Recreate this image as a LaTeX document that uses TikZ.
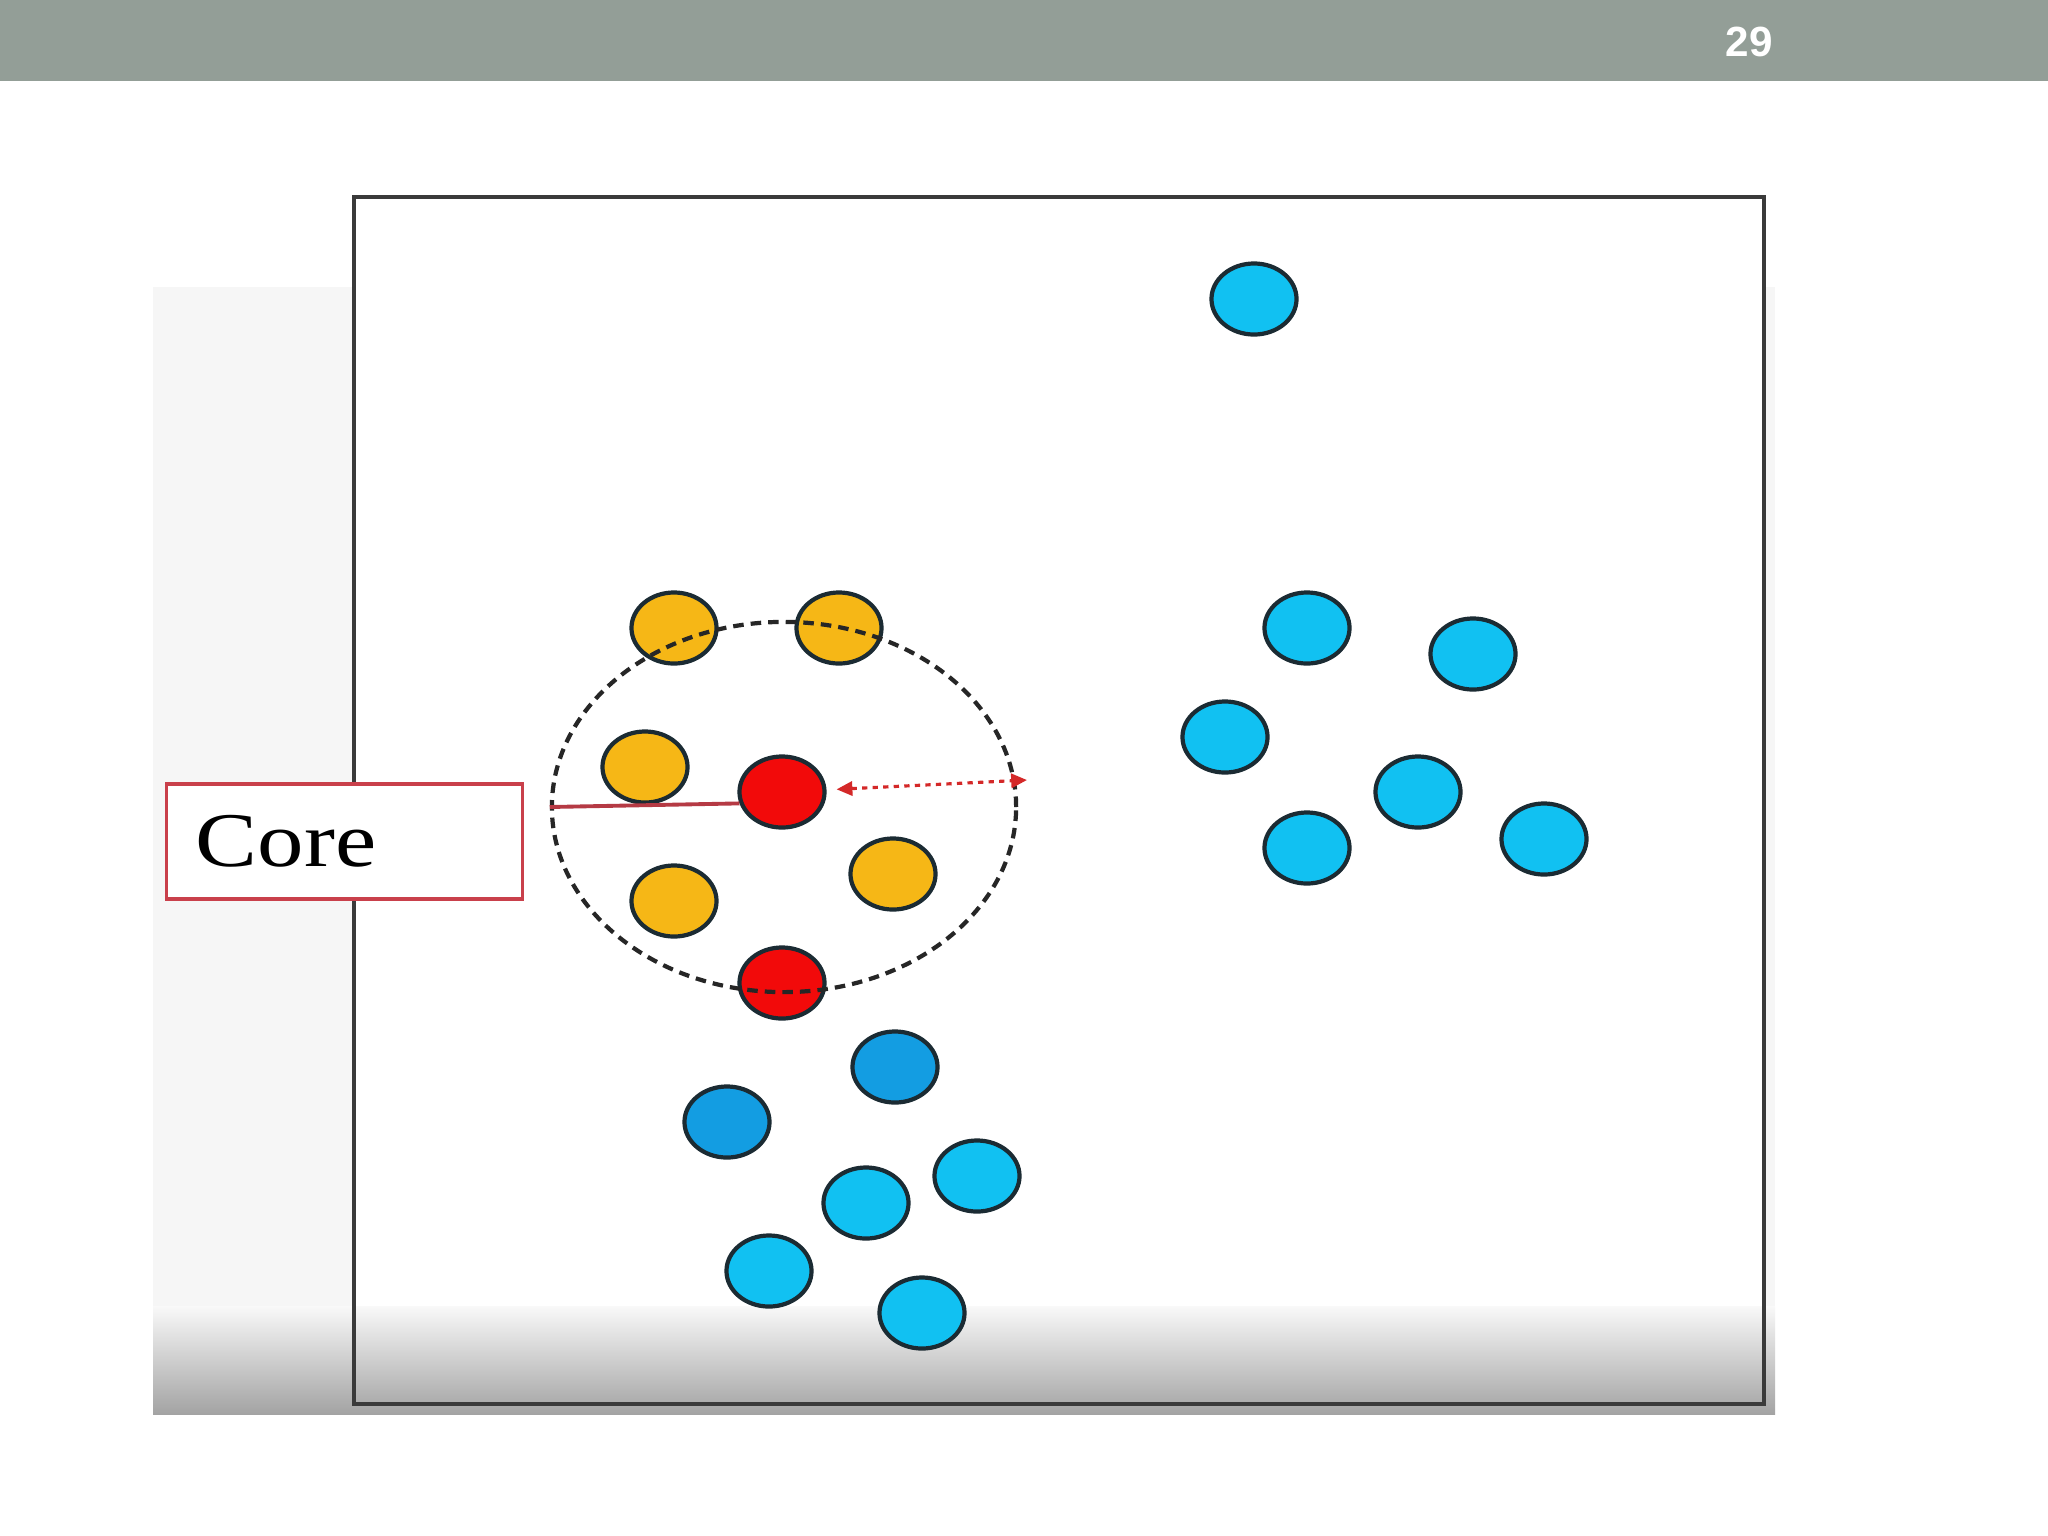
\documentclass[tikz,border=0pt]{standalone}
\usepackage{fontspec}
\usepackage{graphicx}
\setmainfont{Liberation Serif}
\newfontfamily\numfont{Liberation Sans}
\usetikzlibrary{shapes.geometric,arrows.meta}

\definecolor{barcol}{HTML}{939E97}
\definecolor{framecol}{HTML}{3A3A3A}
\definecolor{boxred}{HTML}{C9404B}
\definecolor{ptline}{HTML}{1B2B33}
\definecolor{ptyellow}{HTML}{F6B716}
\definecolor{ptred}{HTML}{F20A0A}
\definecolor{ptcyan}{HTML}{11C1F2}
\definecolor{ptblue}{HTML}{139DE2}
\definecolor{arrowred}{HTML}{D42828}

\begin{document}
\begin{tikzpicture}[
    x=0.01cm, y=-0.01cm,
    point/.style={ellipse, draw=ptline, line width=1.2pt, minimum width=0.85cm, minimum height=0.71cm, inner sep=0pt},
    borderpt/.style={point, fill=ptyellow},
    corept/.style={point, fill=ptred},
    clusterpt/.style={point, fill=ptcyan},
    darkpt/.style={point, fill=ptblue},
    epsring/.style={ellipse, draw=black!85, line width=1.2pt, dash pattern=on 3pt off 2pt, minimum width=4.64cm, minimum height=3.70cm, inner sep=0pt},
    corebox/.style={draw=boxred, fill=white, line width=0.9pt, minimum height=1.15cm, text width=2.97cm, align=left, inner xsep=0.29cm, font=\fontsize{22}{26}\selectfont},
    coreline/.style={draw=boxred!90!black, line width=1.1pt},
    radiusarrow/.style={draw=arrowred, line width=0.9pt, dash pattern=on 1.5pt off 1.5pt, {Triangle[length=4.5pt,width=4pt]}-{Triangle[length=4.5pt,width=4pt]}, shorten <=0.1cm},
    pagenum/.style={text=white, font=\numfont\bfseries\fontsize{12}{14}\selectfont},
  ]
  \useasboundingbox (0,0) rectangle (2048,1536);
  \fill[white] (0,0) rectangle (2048,1536);
  % slide header
  \fill[barcol] (0,0) rectangle (2048,81);
  \node[pagenum]   (pg)          at (1749,42)             {29};
  % backdrop of the pasted figure
  \fill[gray!7] (153,287) rectangle (1775,1414);
  \fill[white] (354,197) rectangle (1764,1306);
  \shade[top color=gray!5, bottom color=gray!72] (153,1306) rectangle (1775,1414);
  \draw[framecol, line width=0.9pt] (354,197) rectangle (1764,1404);
  \node[corebox]   (core)        at (344.5,841.5)         {\scalebox{1.2}[1]{Core}};
  % border points
  \node[borderpt]  (Y1)          at (674,628)             {};
  \node[borderpt]  (Y2)          at (839,628)             {};
  \node[borderpt]  (Y3)          at (645,767)             {};
  \node[borderpt]  (Y4)          at (674,901)             {};
  \node[borderpt]  (Y5)          at (893,874)             {};
  % core points
  \node[corept]    (C1)          at (782,792)             {};
  \node[corept]    (C2)          at (782,983)             {};
  % right cluster
  \node[clusterpt] (R1)          at (1254,299)            {};
  \node[clusterpt] (R2)          at (1307,628)            {};
  \node[clusterpt] (R3)          at (1473,654)            {};
  \node[clusterpt] (R4)          at (1225,737)            {};
  \node[clusterpt] (R5)          at (1418,792)            {};
  \node[clusterpt] (R6)          at (1307,848)            {};
  \node[clusterpt] (R7)          at (1544,839)            {};
  % lower cluster
  \node[darkpt]    (B1)          at (895,1067)            {};
  \node[darkpt]    (B2)          at (727,1122)            {};
  \node[clusterpt] (L1)          at (977,1176)            {};
  \node[clusterpt] (L2)          at (866,1203)            {};
  \node[clusterpt] (L3)          at (769,1271)            {};
  \node[clusterpt] (L4)          at (922,1313)            {};
  % eps neighbourhood
  \node[epsring]   (ring)        at (784,807)             {};
  \draw[coreline] (ring.west) -- (C1.195);
  \coordinate (rim) at (1027,780);
  \draw[radiusarrow] (C1) -- (rim);
\end{tikzpicture}
\end{document}
